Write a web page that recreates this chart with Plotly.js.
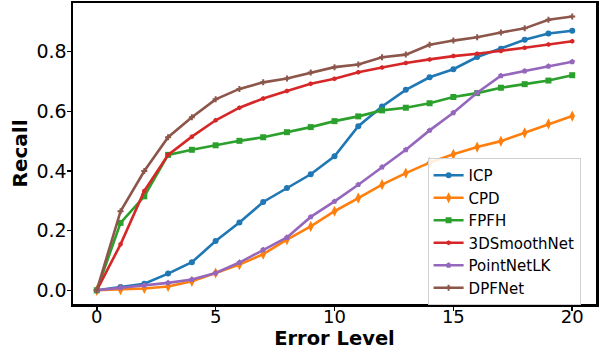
<!DOCTYPE html>
<html>
<head>
<meta charset="utf-8">
<script src="https://cdn.plot.ly/plotly-3.0.1.min.js"></script>
<style>html,body{margin:0;padding:0;background:#fff;}#chart{width:605px;height:350px;}</style>
</head>
<body>
<div id="chart"></div>
<script>
const errorLevels = [0,1,2,3,4,5,6,7,8,9,10,11,12,13,14,15,16,17,18,19,20];
const icp = [0,0.011,0.022,0.056,0.094,0.165,0.227,0.296,0.343,0.389,0.449,0.55,0.616,0.672,0.714,0.741,0.782,0.81,0.84,0.861,0.87];
const cpd = [0,0.002,0.006,0.013,0.03,0.058,0.086,0.121,0.17,0.214,0.265,0.309,0.354,0.393,0.428,0.456,0.48,0.5,0.528,0.558,0.584];
const fpfh = [0,0.226,0.315,0.454,0.471,0.486,0.501,0.513,0.53,0.547,0.567,0.583,0.603,0.612,0.627,0.648,0.661,0.679,0.691,0.703,0.721];
const smoothNet = [0,0.154,0.333,0.454,0.515,0.57,0.612,0.643,0.668,0.692,0.709,0.731,0.747,0.762,0.774,0.785,0.793,0.802,0.813,0.824,0.835];
const pointNetLK = [0,0.008,0.017,0.025,0.036,0.058,0.093,0.136,0.177,0.246,0.298,0.354,0.413,0.471,0.536,0.595,0.662,0.719,0.735,0.751,0.766];
const dpfNet = [0,0.265,0.4,0.513,0.58,0.64,0.675,0.697,0.71,0.73,0.748,0.757,0.781,0.79,0.823,0.837,0.848,0.864,0.878,0.907,0.918];
const seriesNames = ["ICP","CPD","FPFH","3DSmoothNet","PointNetLK","DPFNet"];

const seriesData = [icp, cpd, fpfh, smoothNet, pointNetLK, dpfNet];
const colors = ["#1f77b4","#ff7f0e","#2ca02c","#d62728","#9467bd","#8c564b"];
const symbols = ["circle","diamond-tall","square","hexagon","pentagon","cross"];
const sizes = [6,8,6,5,6,5];

const traces = seriesData.map((ys, i) => ({
  x: errorLevels, y: ys, name: seriesNames[i], type: "scatter", mode: "lines+markers",
  line: {color: colors[i], width: 2.6},
  marker: {color: colors[i], symbol: symbols[i], size: sizes[i]}
}));

const axisCommon = {
  showline: true, mirror: true, linecolor: "#000", linewidth: 2.5,
  ticks: "outside", ticklen: 4, tickwidth: 1.5, tickcolor: "#000",
  showgrid: false, zeroline: false, automargin: false,
  tickfont: {family: "DejaVu Sans", size: 19, color: "#000"}
};

const layout = {
  width: 605, height: 350,
  margin: {l: 73, r: 9, t: 3, b: 46},
  paper_bgcolor: "#fff", plot_bgcolor: "#fff",
  showlegend: true,
  xaxis: Object.assign({}, axisCommon, {
    range: [-1, 21], tickvals: [0,5,10,15,20], ticklabelstandoff: -9,
    tickfont: {family: "DejaVu Sans", size: 18, color: "#000"},
    title: {text: "<b>Error Level</b>", font: {family: "DejaVu Sans", size: 19.5, color: "#000"}, standoff: 2}
  }),
  yaxis: Object.assign({}, axisCommon, {
    range: [-0.0459, 0.963], tickvals: [0,0.2,0.4,0.6,0.8], tickformat: ".1f", ticklabelstandoff: -4,
    title: {text: "<b>Recall</b>", font: {family: "DejaVu Sans", size: 20, color: "#000"}, standoff: 4}
  }),
  legend: {
    x: 0.678, y: 0.485, xanchor: "left", yanchor: "top",
    bgcolor: "rgba(255,255,255,0.85)", bordercolor: "#d0d0d0", borderwidth: 1,
    font: {family: "DejaVu Sans", size: 15, color: "#000"},
    itemwidth: 30
  }
};

Plotly.newPlot("chart", traces, layout, {staticPlot: true, displayModeBar: false});
</script>
</body>
</html>
